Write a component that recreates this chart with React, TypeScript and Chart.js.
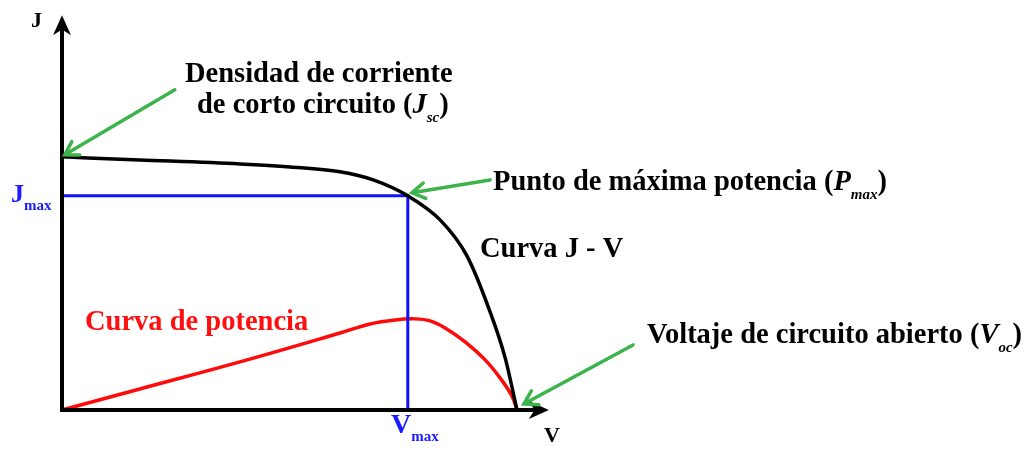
import React, { useEffect, useRef } from "react";
import { Chart, registerables } from "chart.js";

Chart.register(...registerables);

// J-V characteristic (normalised: V / Voc, J / Jsc)
const jvVoltage = [0, 0.171, 0.391, 0.501, 0.611, 0.684, 0.76, 0.831, 0.89, 0.941, 0.974, 1.0];
const jvCurrent = [1.0, 0.988, 0.972, 0.96, 0.941, 0.909, 0.846, 0.751, 0.609, 0.387, 0.206, 0];

// Power curve (scaled onto the same vertical axis)
const pVoltage = [0, 0.171, 0.391, 0.611, 0.677, 0.732, 0.776, 0.809, 0.842, 0.886, 0.93, 0.963, 0.989, 1.0];
const pPower = [0, 0.083, 0.19, 0.304, 0.34, 0.356, 0.36, 0.352, 0.324, 0.269, 0.198, 0.126, 0.055, 0];

// Maximum power point
const vMax = 0.76;
const jMax = 0.846;

// Axis extents (arrow tips)
const axisVEnd = 1.07;
const axisJEnd = 1.56;

// Green callout arrows: [tailV, tailJ, tipV, tipJ]
const calloutArrows: number[][] = [
  [0.248, 1.265, 0.006, 1.008],
  [0.941, 0.909, 0.769, 0.858],
  [1.255, 0.257, 1.015, 0.024],
];

type Run = { t: string; italic?: boolean; sub?: boolean };
type Label = { x: number; y: number; color: string; size: number; subSize: number; runs: Run[] };

const SERIF = "'Liberation Serif', 'Times New Roman', serif";

const labels: Label[] = [
  { x: 31, y: 27, color: "#000", size: 22, subSize: 12, runs: [{ t: "J" }] },
  { x: 544, y: 442, color: "#000", size: 22, subSize: 12, runs: [{ t: "V" }] },
  { x: 185, y: 82, color: "#000", size: 28.5, subSize: 15, runs: [{ t: "Densidad de corriente" }] },
  {
    x: 197, y: 113, color: "#000", size: 28.5, subSize: 15,
    runs: [{ t: "de corto circuito (" }, { t: "J", italic: true }, { t: "sc", italic: true, sub: true }, { t: ")" }],
  },
  {
    x: 493, y: 190, color: "#000", size: 28.5, subSize: 15,
    runs: [{ t: "Punto de máxima potencia (" }, { t: "P", italic: true }, { t: "max", italic: true, sub: true }, { t: ")" }],
  },
  { x: 480, y: 257, color: "#000", size: 28.5, subSize: 15, runs: [{ t: "Curva J - V" }] },
  { x: 85, y: 330, color: "#ff1010", size: 28.5, subSize: 15, runs: [{ t: "Curva de potencia" }] },
  {
    x: 647, y: 343, color: "#000", size: 28.5, subSize: 15,
    runs: [{ t: "Voltaje de circuito abierto (" }, { t: "V", italic: true }, { t: "oc", italic: true, sub: true }, { t: ")" }],
  },
  { x: 11, y: 202, color: "#1a1aff", size: 26, subSize: 15, runs: [{ t: "J" }, { t: "max", sub: true }] },
  { x: 391, y: 433, color: "#1a1aff", size: 28, subSize: 15, runs: [{ t: "V" }, { t: "max", sub: true }] },
];

const toPoints = (xs: number[], ys: number[]) => xs.map((x, i) => ({ x, y: ys[i] }));

const annotationPlugin = {
  id: "jvAnnotations",
  afterDatasetsDraw(chart: any) {
    const { ctx, scales } = chart;
    const px = (v: number) => scales.x.getPixelForValue(v);
    const py = (j: number) => scales.y.getPixelForValue(j);

    ctx.save();
    // axis arrowheads
    const head = (tx: number, ty: number, ang: number) => {
      const len = 20;
      const half = 9;
      ctx.save();
      ctx.translate(tx, ty);
      ctx.rotate(ang);
      ctx.beginPath();
      ctx.moveTo(0, 0);
      ctx.lineTo(-len, -half);
      ctx.lineTo(-len * 0.72, 0);
      ctx.lineTo(-len, half);
      ctx.closePath();
      ctx.fillStyle = "#000";
      ctx.fill();
      ctx.restore();
    };
    head(px(axisVEnd), py(0), 0);
    head(px(0), py(axisJEnd), -Math.PI / 2);

    // green callouts
    ctx.strokeStyle = "#3cb44b";
    ctx.lineWidth = 3.5;
    ctx.lineCap = "round";
    calloutArrows.forEach(([v0, j0, v1, j1]) => {
      const x0 = px(v0), y0 = py(j0), x1 = px(v1), y1 = py(j1);
      const a = Math.atan2(y1 - y0, x1 - x0);
      ctx.beginPath();
      ctx.moveTo(x0, y0);
      ctx.lineTo(x1, y1);
      const arm = 15;
      const spread = 0.55;
      ctx.moveTo(x1 - arm * Math.cos(a - spread), y1 - arm * Math.sin(a - spread));
      ctx.lineTo(x1, y1);
      ctx.lineTo(x1 - arm * Math.cos(a + spread), y1 - arm * Math.sin(a + spread));
      ctx.stroke();
    });

    // text labels
    ctx.textBaseline = "alphabetic";
    ctx.textAlign = "left";
    labels.forEach((lb) => {
      let x = lb.x;
      lb.runs.forEach((r) => {
        const size = r.sub ? lb.subSize : lb.size;
        ctx.font = `${r.italic ? "italic " : ""}bold ${size}px ${SERIF}`;
        ctx.fillStyle = lb.color;
        const y = r.sub ? lb.y + Math.round(lb.size * 0.3) : lb.y;
        ctx.fillText(r.t, x, y);
        x += ctx.measureText(r.t).width;
      });
    });
    ctx.restore();
  },
};

export default function App() {
  const canvasRef = useRef<HTMLCanvasElement | null>(null);

  useEffect(() => {
    document.body.style.margin = "0";
    document.body.style.background = "#fff";
    const canvas = canvasRef.current;
    if (!canvas) return;
    const chart = new Chart(canvas, {
      type: "line",
      data: {
        datasets: [
          {
            label: "Ejes",
            data: [{ x: 0, y: axisJEnd - 0.03 }, { x: 0, y: 0 }, { x: axisVEnd - 0.02, y: 0 }],
            borderColor: "#000",
            borderWidth: 4,
            pointRadius: 0,
            tension: 0,
            clip: false,
            order: 0,
          },
          {
            label: "Curva J - V",
            data: toPoints(jvVoltage, jvCurrent),
            borderColor: "#000",
            borderWidth: 3.5,
            pointRadius: 0,
            cubicInterpolationMode: "monotone",
            clip: false,
            order: 1,
          },
          {
            label: "Pmax",
            data: [{ x: 0, y: jMax }, { x: vMax, y: jMax }, { x: vMax, y: 0 }],
            borderColor: "#1010ff",
            borderWidth: 3,
            pointRadius: 0,
            tension: 0,
            clip: false,
            order: 2,
          },
          {
            label: "Curva de potencia",
            data: toPoints(pVoltage, pPower),
            borderColor: "#ff0a0a",
            borderWidth: 3.5,
            pointRadius: 0,
            tension: 0.4,
            clip: false,
            order: 3,
          },
        ],
      },
      options: {
        animation: false,
        responsive: false,
        maintainAspectRatio: false,
        layout: { padding: { left: 62, right: 60, top: 5, bottom: 41 } },
        scales: {
          x: { type: "linear", min: 0, max: 2, display: false },
          y: { type: "linear", min: 0, max: 1.6, display: false },
        },
        plugins: {
          legend: { display: false },
          tooltip: { enabled: false },
        },
        elements: { line: { fill: false, borderCapStyle: "butt", borderJoinStyle: "miter" } },
      },
      plugins: [annotationPlugin],
    });
    return () => chart.destroy();
  }, []);

  return (
    <div style={{ position: "fixed", left: 0, top: 0, width: 1032, height: 451, background: "#fff" }}>
      <canvas ref={canvasRef} width={1032} height={451} />
    </div>
  );
}
